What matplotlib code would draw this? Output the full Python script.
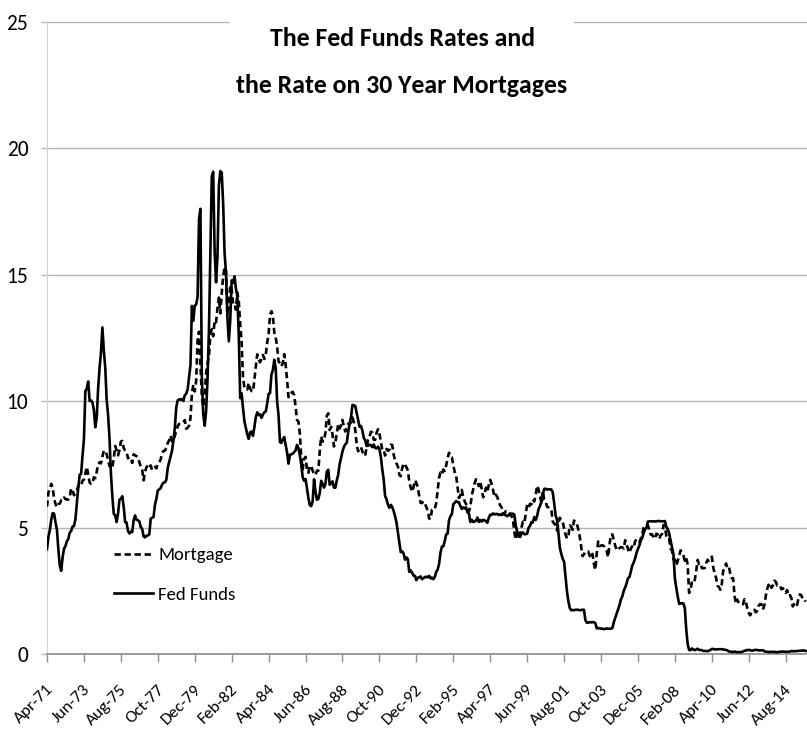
import matplotlib
matplotlib.use("Agg")
import matplotlib.pyplot as plt
from matplotlib.transforms import ScaledTranslation
import numpy as np

# Monthly values, Apr-1971 .. Oct-2015
fed_funds = [
    4.15, 4.63, 4.91, 5.31, 5.57, 5.55, 5.20, 4.91, 4.14,                   # 1971 Apr-Dec
    3.50, 3.29, 3.83, 4.17, 4.27, 4.46, 4.55, 4.80, 4.87, 5.04, 5.06, 5.33,  # 1972
    5.94, 6.58, 7.09, 7.12, 7.84, 8.49, 10.40, 10.50, 10.78, 10.01, 10.03, 9.95,  # 1973
    9.65, 8.97, 9.35, 10.51, 11.31, 11.93, 12.92, 12.01, 11.34, 10.06, 9.45, 8.53,  # 1974
    7.13, 6.24, 5.54, 5.49, 5.22, 5.55, 6.10, 6.14, 6.24, 5.82, 5.22, 5.20,  # 1975
    4.87, 4.77, 4.84, 4.82, 5.29, 5.48, 5.31, 5.29, 5.25, 5.02, 4.95, 4.65,  # 1976
    4.61, 4.68, 4.69, 4.73, 5.35, 5.39, 5.42, 5.90, 6.14, 6.47, 6.51, 6.56,  # 1977
    6.70, 6.78, 6.79, 6.89, 7.36, 7.60, 7.81, 8.04, 8.45, 8.96, 9.76, 10.03,  # 1978
    10.07, 10.06, 10.09, 10.01, 10.24, 10.29, 10.47, 10.94, 11.43, 13.77, 13.18, 13.78,  # 1979
    13.82, 14.13, 17.19, 17.61, 10.98, 9.47, 9.03, 9.61, 10.87, 12.81, 15.85, 18.90,  # 1980
    19.08, 15.93, 14.70, 15.72, 18.52, 19.10, 19.04, 17.82, 15.87, 15.08, 13.31, 12.37,  # 1981
    13.22, 14.78, 14.68, 14.94, 14.45, 14.15, 12.59, 10.12, 10.31, 9.71, 9.20, 8.95,  # 1982
    8.68, 8.51, 8.77, 8.80, 8.63, 8.98, 9.37, 9.56, 9.45, 9.48, 9.34, 9.47,  # 1983
    9.56, 9.59, 9.91, 10.29, 10.32, 11.06, 11.23, 11.64, 11.30, 9.99, 9.43, 8.38,  # 1984
    8.35, 8.50, 8.58, 8.27, 7.97, 7.53, 7.88, 7.90, 7.92, 7.99, 8.05, 8.27,  # 1985
    8.14, 7.86, 7.48, 6.99, 6.85, 6.92, 6.56, 6.17, 5.89, 5.85, 6.04, 6.91,  # 1986
    6.43, 6.10, 6.13, 6.37, 6.85, 6.73, 6.58, 6.73, 7.22, 7.29, 6.69, 6.77,  # 1987
    6.83, 6.58, 6.58, 6.87, 7.09, 7.51, 7.75, 8.01, 8.19, 8.30, 8.35, 8.76,  # 1988
    9.12, 9.36, 9.85, 9.84, 9.81, 9.53, 9.24, 8.99, 9.02, 8.84, 8.55, 8.45,  # 1989
    8.23, 8.24, 8.28, 8.26, 8.18, 8.29, 8.15, 8.13, 8.20, 8.11, 7.81, 7.31,  # 1990
    6.91, 6.25, 6.12, 5.91, 5.78, 5.90, 5.82, 5.66, 5.45, 5.21, 4.81, 4.43,  # 1991
    4.03, 4.06, 3.98, 3.73, 3.82, 3.76, 3.25, 3.30, 3.22, 3.10, 3.09, 2.92,  # 1992
    3.02, 3.03, 3.07, 2.96, 3.00, 3.04, 3.06, 3.03, 3.09, 2.99, 3.02, 2.96,  # 1993
    3.05, 3.25, 3.34, 3.56, 4.01, 4.25, 4.26, 4.47, 4.73, 4.76, 5.29, 5.45,  # 1994
    5.53, 5.92, 5.98, 6.05, 6.01, 6.00, 5.85, 5.74, 5.80, 5.76, 5.80, 5.60,  # 1995
    5.56, 5.22, 5.31, 5.22, 5.24, 5.27, 5.40, 5.22, 5.30, 5.24, 5.31, 5.29,  # 1996
    5.25, 5.19, 5.39, 5.51, 5.50, 5.56, 5.52, 5.54, 5.54, 5.50, 5.52, 5.50,  # 1997
    5.56, 5.51, 5.49, 5.45, 5.49, 5.56, 5.54, 5.55, 5.51, 5.07, 4.83, 4.68,  # 1998
    4.63, 4.76, 4.81, 4.74, 4.74, 4.76, 4.99, 5.07, 5.22, 5.20, 5.42, 5.30,  # 1999
    5.45, 5.73, 5.85, 6.02, 6.27, 6.53, 6.54, 6.50, 6.52, 6.51, 6.51, 6.40,  # 2000
    5.98, 5.49, 5.31, 4.80, 4.21, 3.97, 3.77, 3.65, 3.07, 2.49, 2.09, 1.82,  # 2001
    1.73, 1.74, 1.73, 1.75, 1.75, 1.75, 1.73, 1.74, 1.75, 1.75, 1.34, 1.24,  # 2002
    1.24, 1.26, 1.25, 1.26, 1.26, 1.22, 1.01, 1.03, 1.01, 1.01, 1.00, 0.98,  # 2003
    1.00, 1.01, 1.00, 1.00, 1.00, 1.03, 1.26, 1.43, 1.61, 1.76, 1.93, 2.16,  # 2004
    2.28, 2.50, 2.63, 2.79, 3.00, 3.04, 3.26, 3.50, 3.62, 3.78, 4.00, 4.16,  # 2005
    4.29, 4.49, 4.59, 4.79, 4.94, 4.99, 5.24, 5.25, 5.25, 5.25, 5.25, 5.24,  # 2006
    5.25, 5.26, 5.26, 5.25, 5.25, 5.25, 5.26, 5.02, 4.94, 4.76, 4.49, 4.24,  # 2007
    3.94, 2.98, 2.61, 2.28, 1.98, 2.00, 2.01, 2.00, 1.81, 0.97, 0.39, 0.16,  # 2008
    0.15, 0.22, 0.18, 0.15, 0.18, 0.21, 0.16, 0.16, 0.15, 0.12, 0.12, 0.12,  # 2009
    0.11, 0.13, 0.16, 0.20, 0.20, 0.18, 0.18, 0.19, 0.19, 0.19, 0.19, 0.18,  # 2010
    0.17, 0.16, 0.14, 0.10, 0.09, 0.09, 0.07, 0.10, 0.08, 0.07, 0.08, 0.07,  # 2011
    0.08, 0.10, 0.13, 0.14, 0.16, 0.16, 0.16, 0.13, 0.14, 0.16, 0.16, 0.16,  # 2012
    0.14, 0.15, 0.14, 0.15, 0.11, 0.09, 0.09, 0.08, 0.08, 0.09, 0.08, 0.09,  # 2013
    0.07, 0.07, 0.08, 0.09, 0.09, 0.10, 0.09, 0.09, 0.09, 0.09, 0.09, 0.12,  # 2014
    0.11, 0.11, 0.11, 0.12, 0.12, 0.13, 0.13, 0.14, 0.14, 0.12,              # 2015 Jan-Oct
]

mortgage = [
    5.83, 6.39, 6.52, 6.73, 6.58, 6.14, 5.93, 5.81, 5.93,                   # 1971 Apr-Dec
    5.95, 6.08, 6.07, 6.19, 6.13, 6.11, 6.11, 6.21, 6.55, 6.48, 6.28, 6.36,  # 1972
    6.46, 6.64, 6.71, 6.67, 6.85, 6.90, 7.13, 7.40, 7.09, 6.79, 6.73, 6.74,  # 1973
    6.99, 6.96, 7.21, 7.51, 7.58, 7.54, 7.81, 8.04, 8.04, 7.90, 7.68, 7.43,  # 1974
    7.50, 7.39, 7.73, 8.23, 8.06, 7.86, 8.06, 8.40, 8.43, 8.14, 8.05, 8.00,  # 1975
    7.74, 7.79, 7.73, 7.56, 7.90, 7.86, 7.83, 7.77, 7.59, 7.41, 7.29, 6.87,  # 1976
    7.21, 7.39, 7.46, 7.37, 7.46, 7.28, 7.33, 7.40, 7.34, 7.52, 7.58, 7.69,  # 1977
    7.96, 8.03, 8.04, 8.15, 8.35, 8.46, 8.64, 8.41, 8.42, 8.64, 8.81, 9.01,  # 1978
    9.10, 9.10, 9.12, 9.18, 9.25, 8.91, 8.95, 9.03, 9.33, 10.30, 10.65, 10.39,  # 1979
    10.80, 12.41, 12.75, 11.47, 10.18, 9.78, 10.25, 11.10, 11.51, 11.75, 12.68, 12.84,  # 1980
    12.57, 13.19, 13.12, 13.68, 14.10, 13.47, 14.28, 14.94, 15.32, 15.15, 13.39, 13.72,  # 1981
    14.59, 14.43, 13.86, 13.87, 13.62, 14.30, 13.95, 13.06, 12.34, 10.91, 10.55, 10.54,  # 1982
    10.46, 10.72, 10.51, 10.40, 10.38, 10.85, 11.38, 11.85, 11.65, 11.54, 11.69, 11.83,  # 1983
    11.67, 11.84, 12.32, 12.63, 13.41, 13.56, 13.36, 12.72, 12.52, 12.16, 11.57, 11.50,  # 1984
    11.38, 11.51, 11.86, 11.43, 10.85, 10.16, 10.31, 10.33, 10.37, 10.24, 9.78, 9.26,  # 1985
    9.19, 8.70, 7.78, 7.30, 7.71, 7.80, 7.30, 7.17, 7.45, 7.43, 7.25, 7.11,  # 1986
    7.08, 7.25, 7.25, 8.02, 8.61, 8.40, 8.45, 8.76, 9.42, 9.52, 8.86, 8.99,  # 1987
    8.67, 8.21, 8.37, 8.72, 9.09, 8.92, 9.06, 9.26, 8.98, 8.80, 8.96, 9.11,  # 1988
    9.09, 9.17, 9.36, 9.18, 8.86, 8.28, 8.02, 8.11, 8.19, 8.01, 7.87, 7.84,  # 1989
    8.21, 8.47, 8.59, 8.79, 8.76, 8.48, 8.47, 8.75, 8.89, 8.72, 8.39, 8.08,  # 1990
    8.09, 7.85, 8.11, 8.04, 8.07, 8.28, 8.27, 7.90, 7.65, 7.53, 7.42, 7.09,  # 1991
    7.03, 7.34, 7.54, 7.48, 7.39, 7.26, 6.84, 6.59, 6.42, 6.59, 6.87, 6.77,  # 1992
    6.60, 6.26, 5.98, 5.97, 6.04, 5.96, 5.81, 5.68, 5.36, 5.33, 5.72, 5.77,  # 1993
    5.75, 5.97, 6.48, 6.97, 7.18, 7.10, 7.30, 7.24, 7.46, 7.74, 7.96, 7.81,  # 1994
    7.78, 7.47, 7.20, 7.06, 6.63, 6.17, 6.28, 6.49, 6.20, 6.04, 5.93, 5.71,  # 1995
    5.65, 5.81, 6.27, 6.51, 6.74, 6.91, 6.87, 6.64, 6.83, 6.53, 6.20, 6.30,  # 1996
    6.58, 6.42, 6.69, 6.89, 6.71, 6.49, 6.22, 6.30, 6.21, 6.03, 5.88, 5.81,  # 1997
    5.54, 5.57, 5.65, 5.64, 5.65, 5.50, 5.46, 5.34, 4.81, 4.53, 4.83, 4.65,  # 1998
    4.72, 5.00, 5.23, 5.18, 5.54, 5.90, 5.79, 5.94, 5.92, 6.11, 6.03, 6.28,  # 1999
    6.66, 6.52, 6.26, 5.99, 6.44, 6.10, 6.05, 5.83, 5.80, 5.74, 5.72, 5.24,  # 2000
    5.16, 5.10, 4.89, 5.14, 5.39, 5.28, 5.24, 4.97, 4.73, 4.57, 4.65, 5.09,  # 2001
    5.04, 4.91, 5.28, 5.21, 5.16, 4.93, 4.65, 4.26, 3.87, 3.94, 4.05, 4.03,  # 2002
    4.05, 3.90, 3.81, 3.96, 3.57, 3.33, 3.98, 4.45, 4.27, 4.29, 4.30, 4.27,  # 2003
    4.15, 4.08, 3.83, 4.35, 4.72, 4.73, 4.50, 4.28, 4.13, 4.10, 4.19, 4.23,  # 2004
    4.22, 4.17, 4.50, 4.34, 4.14, 4.00, 4.18, 4.26, 4.20, 4.46, 4.54, 4.47,  # 2005
    4.42, 4.57, 4.72, 4.99, 5.11, 5.11, 5.09, 4.88, 4.72, 4.73, 4.60, 4.56,  # 2006
    4.76, 4.72, 4.56, 4.69, 4.75, 5.10, 5.00, 4.67, 4.52, 4.53, 4.15, 4.10,  # 2007
    3.74, 3.74, 3.51, 3.68, 3.88, 4.10, 4.01, 3.89, 3.69, 3.81, 3.53, 2.42,  # 2008
    2.52, 2.87, 2.82, 2.93, 3.29, 3.72, 3.56, 3.59, 3.40, 3.39, 3.40, 3.59,  # 2009
    3.73, 3.69, 3.73, 3.85, 3.42, 3.20, 3.01, 2.70, 2.65, 2.54, 2.76, 3.29,  # 2010
    3.39, 3.58, 3.41, 3.46, 3.17, 3.00, 3.00, 2.30, 1.98, 2.15, 2.01, 1.98,  # 2011
    1.97, 1.97, 2.17, 2.05, 1.80, 1.62, 1.53, 1.68, 1.72, 1.75, 1.65, 1.72,  # 2012
    1.91, 1.98, 1.96, 1.76, 1.93, 2.30, 2.58, 2.74, 2.81, 2.62, 2.72, 2.90,  # 2013
    2.86, 2.71, 2.72, 2.71, 2.56, 2.60, 2.54, 2.42, 2.53, 2.30, 2.33, 2.21,  # 2014
    1.88, 1.98, 2.04, 1.94, 2.20, 2.36, 2.32, 2.17, 2.17, 2.07,              # 2015 Jan-Oct
]

tick_labels = ["Apr-71", "Jun-73", "Aug-75", "Oct-77", "Dec-79", "Feb-82", "Apr-84",
               "Jun-86", "Aug-88", "Oct-90", "Dec-92", "Feb-95", "Apr-97", "Jun-99",
               "Aug-01", "Oct-03", "Dec-05", "Feb-08", "Apr-10", "Jun-12", "Aug-14"]
y_ticks = [0, 5, 10, 15, 20, 25]
title_text = "The Fed Funds Rates and\nthe Rate on 30 Year Mortgages"

FONT = ["Carlito", "Lato", "DejaVu Sans"]
plt.rcParams["font.family"] = FONT

n = min(len(fed_funds), len(mortgage))
x = np.arange(n)

W, H = 807, 735
fig = plt.figure(figsize=(W / 100, H / 100), dpi=100)
ax = fig.add_axes([47 / W, 81 / H, 760 / W, 632 / H])

ax.plot(x, mortgage[:n], color="black", lw=1.9, ls=(0, (2.4, 1.4)), label="Mortgage", zorder=3)
ax.plot(x, fed_funds[:n], color="black", lw=1.9, ls="-", label="Fed Funds", zorder=3)

ax.set_xlim(0, 535)
ax.set_ylim(0, 25)
ax.set_yticks(y_ticks)
ax.set_yticklabels([str(v) for v in y_ticks], fontsize=15.5)
ax.tick_params(axis="y", direction="out", length=4.5, width=1, color="#b4b4b4", pad=9)
ax.set_xticks(np.arange(len(tick_labels)) * 26)
ax.set_xticklabels(tick_labels, rotation=45, ha="right", va="center",
                   rotation_mode="anchor", fontsize=12.5)
ax.tick_params(axis="x", direction="out", length=6, width=1, color="#8c8c8c", pad=18)
shift = ScaledTranslation(4 / 100, 0, fig.dpi_scale_trans)
for lbl in ax.get_xticklabels():
    lbl.set_transform(lbl.get_transform() + shift)

ax.grid(axis="y", color="#b4b4b4", lw=1.0)
ax.set_axisbelow(True)
for s in ["top", "right"]:
    ax.spines[s].set_visible(False)
ax.spines["left"].set_color("#d4d4d4")
ax.spines["bottom"].set_color("#8c8c8c")
ax.spines["bottom"].set_linewidth(1.2)
ax.spines["bottom"].set_zorder(2.5)

leg = ax.legend(loc="upper left", bbox_to_anchor=(114 / W, (H - 547) / H),
                bbox_transform=fig.transFigure, frameon=False, fontsize=13.5,
                handlelength=2.1, handletextpad=0.25, labelspacing=1.25,
                borderpad=0, borderaxespad=0)

fig.text(402 / W, (H - 62) / H, title_text, ha="center", va="center",
         fontsize=18.5, fontweight="bold", linespacing=2.25, color="black",
         bbox=dict(facecolor="white", edgecolor="none", pad=4.5), zorder=10)

fig.savefig("out.png", dpi=100)
